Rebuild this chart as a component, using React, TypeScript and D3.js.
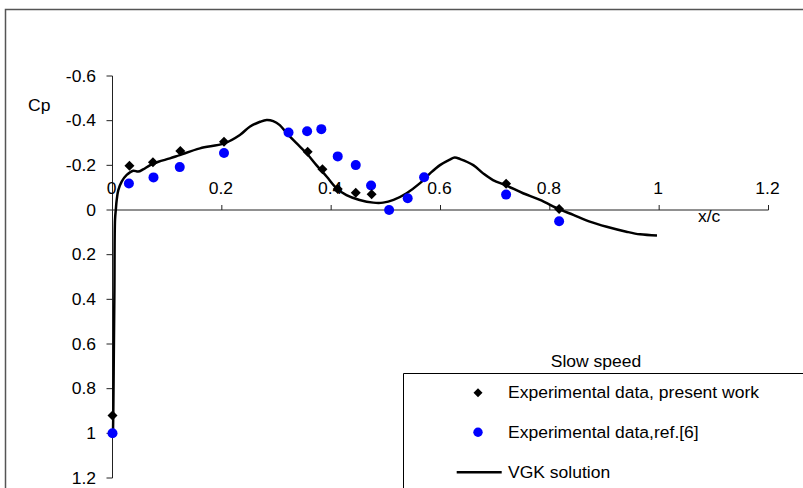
import React from "react";
import * as d3 from "d3";

const xTicks = [0, 0.2, 0.4, 0.6, 0.8, 1, 1.2];
const yTicks = [-0.6, -0.4, -0.2, 0, 0.2, 0.4, 0.6, 0.8, 1, 1.2];

const presentX = [0.0, 0.031, 0.074, 0.124, 0.204, 0.357, 0.384, 0.412, 0.445, 0.474, 0.72, 0.817];
const presentCp = [0.92, -0.198, -0.214, -0.264, -0.306, -0.261, -0.183, -0.094, -0.077, -0.07, -0.118, -0.005];

const refX = [0.0, 0.03, 0.075, 0.123, 0.204, 0.322, 0.356, 0.382, 0.412, 0.445, 0.473, 0.506, 0.54, 0.57, 0.72, 0.817];
const refCp = [1.0, -0.119, -0.146, -0.192, -0.255, -0.347, -0.353, -0.362, -0.24, -0.201, -0.11, 0.0, -0.053, -0.147, -0.069, 0.05];

const vgkX = [0.001, 0.0015, 0.0025, 0.0035, 0.0046, 0.0062, 0.0077, 0.0106, 0.0168, 0.026, 0.038, 0.047, 0.056, 0.069, 0.084, 0.105, 0.123, 0.16, 0.204, 0.233, 0.251, 0.27, 0.282, 0.294, 0.306, 0.319, 0.337, 0.355, 0.373, 0.392, 0.41, 0.428, 0.452, 0.477, 0.495, 0.514, 0.538, 0.562, 0.581, 0.599, 0.617, 0.626, 0.636, 0.66, 0.678, 0.696, 0.721, 0.751, 0.782, 0.817, 0.843, 0.873, 0.904, 0.94, 0.965, 0.996];
const vgkCp = [0.98, 0.9, 0.62, 0.36, 0.045, -0.005, -0.045, -0.089, -0.127, -0.157, -0.176, -0.172, -0.182, -0.201, -0.216, -0.231, -0.246, -0.276, -0.298, -0.336, -0.373, -0.395, -0.403, -0.398, -0.38, -0.343, -0.298, -0.254, -0.201, -0.149, -0.097, -0.067, -0.045, -0.033, -0.033, -0.045, -0.075, -0.119, -0.164, -0.201, -0.226, -0.235, -0.228, -0.201, -0.164, -0.134, -0.109, -0.075, -0.045, -0.004, 0.022, 0.052, 0.075, 0.097, 0.109, 0.114];

const legendTitle = "Slow speed";
const legendLabels = ["Experimental data, present work", "Experimental data,ref.[6]", "VGK solution"];

const FONT = "'Liberation Sans', Arial, sans-serif";
const FS = 16.3;
const SX = 1.075;

function T({ x, y, anchor = "start", children }: { x: number; y: number; anchor?: string; children: React.ReactNode }) {
  return (
    <text
      transform={`translate(${x},${y}) scale(${SX},1)`}
      textAnchor={anchor}
      fontFamily={FONT}
      fontSize={FS}
      fill="#000"
    >
      {children}
    </text>
  );
}

export default function App() {
  const x = d3.scaleLinear().domain([0, 1.2]).range([112.5, 768.5]);
  const y = d3.scaleLinear().domain([-0.6, 1.2]).range([76, 478]);
  const y0 = y(0);

  const vgk = vgkX.map((v, i) => [v, vgkCp[i]] as [number, number]);
  const line = d3
    .line<[number, number]>()
    .x((d) => x(d[0]))
    .y((d) => y(d[1]))
    .curve(d3.curveCatmullRom.alpha(0.5));

  const diamond = (cx: number, cy: number, r: number) =>
    `M${cx},${cy - r}L${cx + r},${cy}L${cx},${cy + r}L${cx - r},${cy}Z`;

  return (
    <svg width={803} height={488} style={{ position: "absolute", left: 0, top: 0 }}>
      <rect x={0} y={0} width={803} height={488} fill="#fff" />
      {/* outer frame */}
      <path d="M5.5,488V9.5H803" fill="none" stroke="#555" strokeWidth={1.5} />

      {/* y axis */}
      <line x1={x(0)} x2={x(0)} y1={y(-0.6)} y2={y(1.2)} stroke="#222" strokeWidth={1} />
      {yTicks.map((t) => (
        <g key={"yt" + t}>
          <line x1={x(0) - 6} x2={x(0)} y1={y(t)} y2={y(t)} stroke="#222" strokeWidth={1} />
          <T x={96} y={y(t) + 5.8} anchor="end">
            {String(t)}
          </T>
        </g>
      ))}

      {/* x axis */}
      <line x1={x(0)} x2={x(1.2)} y1={y0} y2={y0} stroke="#222" strokeWidth={1} />
      {xTicks.map((t) => (
        <g key={"xt" + t}>
          {t > 0 && <line x1={x(t)} x2={x(t)} y1={y0 - 5} y2={y0} stroke="#222" strokeWidth={1} />}
          <T x={x(t) - 1} y={y0 - 16.5} anchor="middle">
            {String(t)}
          </T>
        </g>
      ))}

      <T x={28} y={111}>Cp</T>
      <T x={698} y={222}>x/c</T>

      {/* VGK line */}
      <path d={line(vgk) || ""} fill="none" stroke="#000" strokeWidth={2.5} strokeLinejoin="round" />

      {/* ref dots */}
      {refX.map((v, i) => (
        <circle key={"r" + i} cx={x(v)} cy={y(refCp[i])} r={5} fill="#0000ff" />
      ))}
      {/* present diamonds */}
      {presentX.map((v, i) => (
        <path key={"p" + i} d={diamond(x(v), y(presentCp[i]), 5)} fill="#000" />
      ))}

      {/* legend */}
      <T x={596} y={367} anchor="middle">{legendTitle}</T>
      <path d="M403.5,488V373.5H803" fill="#fff" stroke="#000" strokeWidth={1} />
      <path d={diamond(478, 392.7, 4.5)} fill="#000" />
      <T x={508} y={398}>{legendLabels[0]}</T>
      <circle cx={478} cy={432.3} r={4.7} fill="#0000ff" />
      <T x={508} y={438}>{legendLabels[1]}</T>
      <line x1={456.7} x2={501.7} y1={472.3} y2={472.3} stroke="#000" strokeWidth={2.5} />
      <T x={508} y={478}>{legendLabels[2]}</T>
    </svg>
  );
}
